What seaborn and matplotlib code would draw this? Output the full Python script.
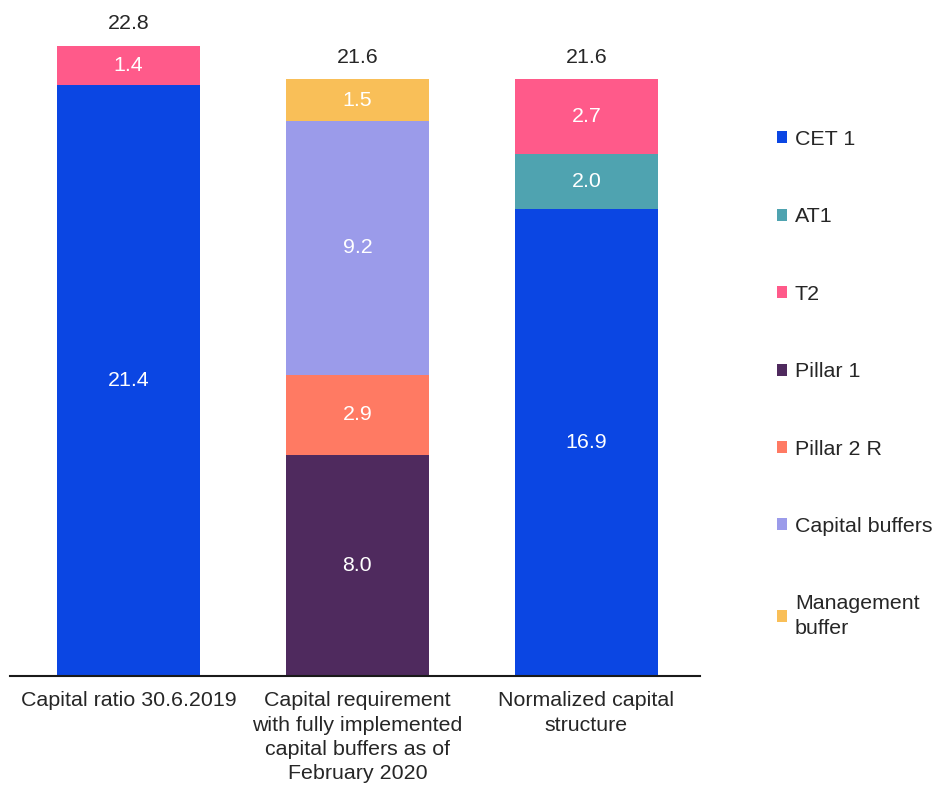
import numpy as np
import pandas as pd
import matplotlib
matplotlib.use("Agg")
import matplotlib.pyplot as plt
from matplotlib.patches import Patch
import seaborn as sns

categories = [
    "Capital ratio 30.6.2019",
    "Capital requirement\nwith fully implemented\ncapital buffers as of\nFebruary 2020",
    "Normalized capital\nstructure",
]

# Stack order, bottom to top
cet1 = [21.4, 0.0, 16.9]
pillar1 = [0.0, 8.0, 0.0]
pillar2r = [0.0, 2.9, 0.0]
capital_buffers = [0.0, 9.2, 0.0]
management_buffer = [0.0, 1.5, 0.0]
at1 = [0.0, 0.0, 2.0]
t2 = [1.4, 0.0, 2.7]
totals = [22.8, 21.6, 21.6]

series = [
    ("CET 1", cet1, "#0B46E3"),
    ("Pillar 1", pillar1, "#4F2A5E"),
    ("Pillar 2 R", pillar2r, "#FF7A63"),
    ("Capital buffers", capital_buffers, "#9B9BEA"),
    ("Management\nbuffer", management_buffer, "#F9BF58"),
    ("AT1", at1, "#4FA3B0"),
    ("T2", t2, "#FF5A8A"),
]
legend_order = ["CET 1", "AT1", "T2", "Pillar 1", "Pillar 2 R",
                "Capital buffers", "Management\nbuffer"]

sns.set_theme(style="white")
plt.rcParams["font.family"] = ["Liberation Sans", "DejaVu Sans"]
FS = 15.4
TXT = "#262626"

fig = plt.figure(figsize=(9.32, 7.86), dpi=100)
ax = fig.add_axes([10 / 932, 110 / 786, 690 / 932, 663 / 786])

bottom = np.zeros(len(categories))
colors = {}
for name, vals, col in series:
    vals = np.asarray(vals, dtype=float)
    df = pd.DataFrame({"category": categories, "value": vals})
    sns.barplot(data=df, x="category", y="value", order=categories,
                color=col, width=0.625, bottom=bottom, ax=ax,
                saturation=1, linewidth=0, errorbar=None)
    cont = ax.containers[-1]
    labels = [f"{v:.1f}" if v > 0 else "" for v in vals]
    ax.bar_label(cont, labels=labels, label_type="center",
                 color="white", fontsize=FS)
    colors[name] = col
    bottom = bottom + vals

for i, tot in enumerate(totals):
    ax.annotate(f"{tot:.1f}", xy=(i, tot), xytext=(0, 12),
                textcoords="offset points", ha="center", va="baseline",
                fontsize=FS, color=TXT)

ax.set_xlim(-0.517, 2.496)
ax.set_ylim(0, 24)
ax.set_xlabel("")
ax.set_ylabel("")
ax.set_yticks([])
for s in ["top", "right", "left"]:
    ax.spines[s].set_visible(False)
ax.spines["bottom"].set_color("#1a1a1a")
ax.spines["bottom"].set_linewidth(1.5)
ax.tick_params(axis="x", length=0, pad=11, labelsize=FS, labelcolor=TXT)
for lab in ax.get_xticklabels():
    lab.set_ha("center")
    lab.set_multialignment("center")
    lab.set_linespacing(1.36)

handles = [Patch(facecolor=colors[n], edgecolor="none", label=n)
           for n in legend_order]
leg = fig.legend(handles=handles, loc="upper left",
                 bbox_to_anchor=(777 / 932, 1 - 130 / 786), frameon=False,
                 fontsize=FS, labelcolor=TXT, handlelength=0.48,
                 handleheight=0.48, handletextpad=0.35, labelspacing=2.73,
                 borderpad=0, borderaxespad=0)
for t in leg.get_texts():
    t.set_linespacing(1.38)

fig.savefig("out.png", dpi=100)
